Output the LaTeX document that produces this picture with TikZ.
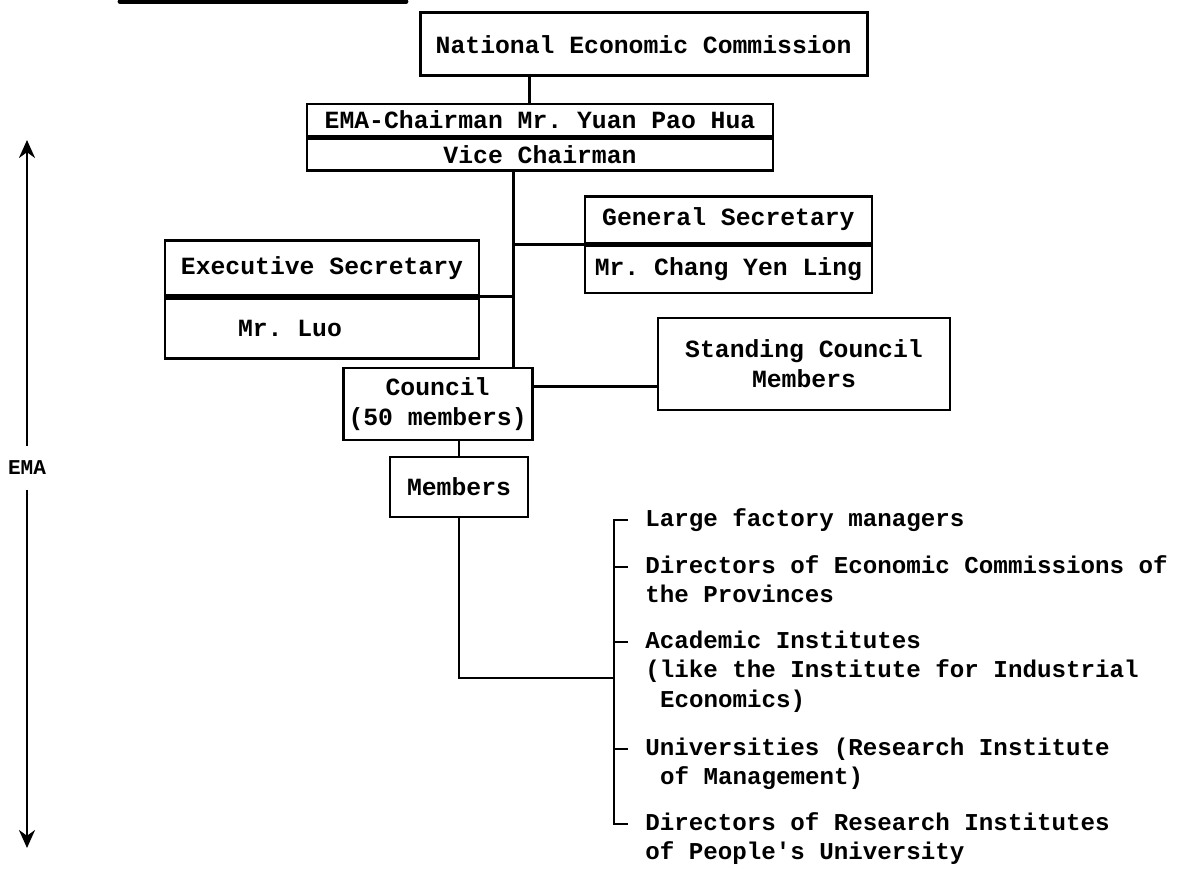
\documentclass[tikz,border=0pt]{standalone}
\usepackage{fontspec}
\usepackage{tikz}
\usetikzlibrary{arrows.meta,calc,positioning}
\newfontfamily\typefont{Liberation Mono}
\newcommand{\chartfont}{\typefont\bfseries\fontsize{17.6}{21.3}\selectfont\frenchspacing}
\newcommand{\listfont}{\typefont\bfseries\fontsize{17.2}{21.3}\selectfont\frenchspacing}
\tikzset{
  unit/.style={
    draw=black,
    line width=2pt,
    align=center,
    font=\chartfont,
    inner xsep=1mm,
    inner ysep=.5mm,
    execute at begin node={\spaceskip=0pt\xspaceskip=0pt}
  },
  link/.style={draw=black,line width=2pt},
  arrow/.style={-{Stealth[length=4.5mm,width=4mm]},draw=black,line width=2pt},
  listitem/.style={
    font=\listfont,
    text width=14cm,
    align=left,
    inner sep=0pt,
    anchor=base west,
    execute at begin node={\spaceskip=0pt\xspaceskip=0pt}
  }
}

\begin{document}
\begin{tikzpicture}[x=1cm,y=1cm]
  \useasboundingbox (0,0) rectangle (29.6,21.7);
  % torn heading rule at the top edge
  \draw[line width=.12cm,line cap=round] (3.0,21.66) -- (10.15,21.66);

  \node[unit,minimum width=11.175cm,minimum height=1.575cm] (nec) at (16.09,20.59)
    {National Economic Commission};
  \node[unit,minimum width=11.65cm,minimum height=.8cm] (chair) at (13.5,18.7)
    {EMA-Chairman Mr. Yuan Pao Hua};
  \node[unit,minimum width=11.65cm,minimum height=.8cm,below=0pt of chair] (vice)
    {Vice Chairman};

  \node[unit,minimum width=7.175cm,minimum height=1.175cm] (gstitle) at (18.21,16.21)
    {General Secretary};
  \node[unit,minimum width=7.175cm,minimum height=1.175cm,below=0pt of gstitle] (gsname)
    {Mr. Chang Yen Ling};

  \node[unit,minimum width=7.85cm,minimum height=1.375cm] (exectitle) at (8.05,15.0)
    {Executive Secretary};
  \node[unit,minimum width=7.85cm,minimum height=1.5cm,text width=4.2cm,align=left,
    below=0pt of exectitle] (execname) {Mr. Luo};

  \node[unit,minimum width=4.725cm,minimum height=1.8cm] (council) at (10.94,11.6)
    {Council\\(50 members)};
  \node[unit,minimum width=7.3cm,minimum height=2.3cm] (stand) at (20.1,12.6)
    {Standing Council\\Members};
  \node[unit,minimum width=3.45cm,minimum height=1.5cm] (members) at (11.475,9.525)
    {Members};

  % member groups
  \node[listitem] (item1) at (16.125,8.55) {Large factory managers};
  \node[listitem] (item2) at (16.125,7.375)
    {Directors of Economic Commissions of\\the Provinces};
  \node[listitem] (item3) at (16.125,5.5)
    {Academic Institutes\\(like the Institute for Industrial\\\hspace*{.37cm}Economics)};
  \node[listitem] (item4) at (16.125,2.825)
    {Universities (Research Institute\\\hspace*{.37cm}of Management)};
  \node[listitem] (item5) at (16.125,.95)
    {Directors of Research Institutes\\of People's University};

  % EMA span on the left
  \node[font=\typefont\bfseries\fontsize{15}{18}\selectfont,minimum height=1.1cm,inner sep=0pt] (ema)
    at (.675,10.0) {EMA};
  \coordinate (emahigh) at (.675,18.2);
  \coordinate (emalow) at (.675,.5);
  \draw[arrow] (ema.north) -- (emahigh);
  \draw[arrow] (ema.south) -- (emalow);

  % connectors
  \coordinate (necfoot) at ($(nec.south west)!0.246!(nec.south east)$);
  \draw[link] (necfoot) -- (necfoot |- chair.north);
  \coordinate (spine) at ($(vice.south west)!0.444!(vice.south east)$);
  \draw[link] (spine) -- (spine |- council.north);
  \draw[link] (gstitle.south west) -- (gstitle.south west -| spine);
  \draw[link] (exectitle.south east) -- (exectitle.south east -| spine);
  \coordinate (cside) at ($(council.north east)!0.264!(council.south east)$);
  \draw[link] (cside) -- (cside -| stand.west);
  \draw[link] (members.north) -- (members.north |- council.south);

  \coordinate (brace) at (15.35,4.75);
  \draw[link] (members.south) |- (brace);
  \foreach \i in {1,...,5}{
    \path (item\i.base west) ++(0,.15) coordinate (tick\i);
  }
  \draw[link,line join=miter] ($(tick1 -| brace)+(.35,0)$) -- (tick1 -| brace)
    -- (tick5 -| brace) -- ++(.35,0);
  \foreach \i in {2,3,4}{
    \draw[link] (tick\i -| brace) -- ++(.35,0);
  }
\end{tikzpicture}
\end{document}
